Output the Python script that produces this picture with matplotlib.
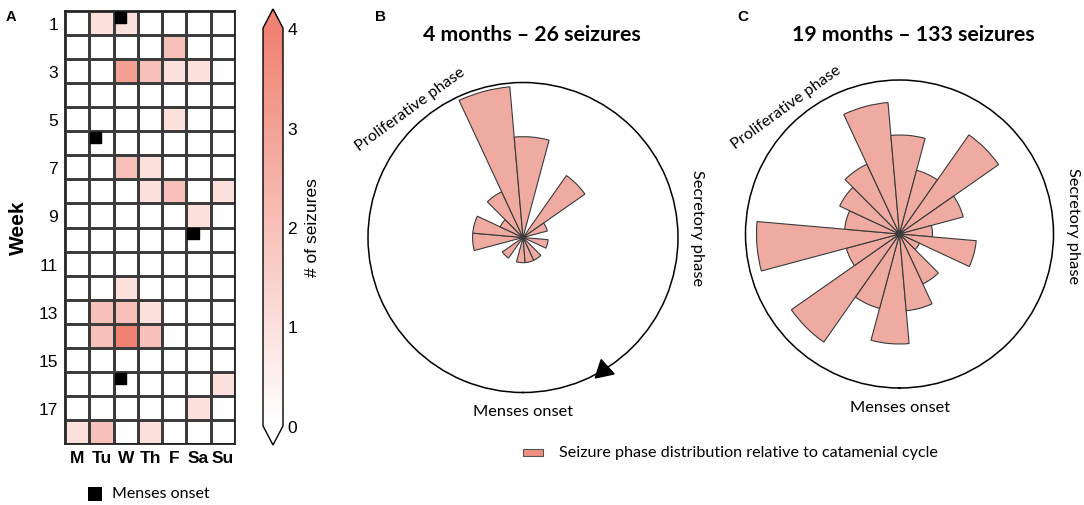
import numpy as np
import matplotlib
matplotlib.use('Agg')
import matplotlib.pyplot as plt
from matplotlib.colors import LinearSegmentedColormap
from matplotlib.patches import Rectangle

plt.rcParams['font.family'] = ['Liberation Sans', 'DejaVu Sans']

# panel A: seizures per day, weeks 1-18
days = ['M', 'Tu', 'W', 'Th', 'F', 'Sa', 'Su']
week_ticks = [1, 3, 5, 7, 9, 11, 13, 15, 17]
seizures = [
    [0, 1, 1, 0, 0, 0, 0],
    [0, 0, 0, 0, 2, 0, 0],
    [0, 0, 3, 2, 1, 1, 0],
    [0, 0, 0, 0, 0, 0, 0],
    [0, 0, 0, 0, 1, 0, 0],
    [0, 0, 0, 0, 0, 0, 0],
    [0, 0, 2, 1, 0, 0, 0],
    [0, 0, 0, 1, 2, 0, 1],
    [0, 0, 0, 0, 0, 1, 0],
    [0, 0, 0, 0, 0, 0, 0],
    [0, 0, 0, 0, 0, 0, 0],
    [0, 0, 1, 0, 0, 0, 0],
    [0, 2, 2, 1, 0, 0, 0],
    [0, 2, 4, 2, 0, 0, 0],
    [0, 0, 0, 0, 0, 0, 0],
    [0, 0, 0, 0, 0, 0, 1],
    [0, 0, 0, 0, 0, 1, 0],
    [1, 2, 0, 1, 0, 0, 0],
]
# menses onset (week, day index)
menses_week = [1, 6, 10, 16]
menses_day = [2, 1, 5, 2]

# panels B and C: counts per 20 deg bin, starting at menses onset going clockwise
bin_start = -5
counts_4m = [1, 0, 1, 0, 2, 2, 1, 2, 6, 4, 0, 3, 1, 0, 1, 0, 1, 1]
counts_19m = [10, 7, 12, 5, 13, 5, 6, 7, 12, 9, 6, 11, 6, 3, 7, 2, 5, 7]
rmax_4m = 6.15
rmax_19m = 14.0

W, H = 1084, 506
fig = plt.figure(figsize=(W / 100, H / 100), dpi=100)

def fx(px):
    return px / W

def fy(py):
    return 1 - py / H

# ---- A heatmap
cmap = LinearSegmentedColormap.from_list('sz', ['#ffffff', '#ef8272'])
axA = fig.add_axes([fx(65), fy(445), fx(170), (445 - 12) / H])
data = np.array(seizures)
mesh = axA.pcolormesh(data, cmap=cmap, vmin=0, vmax=4, edgecolors='#3c3c3c', linewidth=0.9)
axA.set_xlim(0, 7)
axA.set_ylim(18, 0)
axA.set_xticks(np.arange(7) + 0.5)
axA.set_xticklabels(days, fontweight='bold', fontsize=12.5)
axA.set_yticks(np.array(week_ticks) - 0.5)
axA.set_yticklabels([str(w) for w in week_ticks], fontsize=12.5)
axA.tick_params(length=0, pad=5)
axA.tick_params(axis='x', pad=4)
for s in axA.spines.values():
    s.set_linewidth(1.3)
    s.set_color('#222222')
for wk, d in zip(menses_week, menses_day):
    axA.add_patch(Rectangle((d + 0.04, wk - 1 + 0.03), 0.46, 0.46, color='black', zorder=5))
fig.text(fx(18), fy(228), 'Week', rotation=90, fontsize=15, fontweight='bold', ha='center', va='center')
fig.text(fx(11), fy(17), 'A', fontsize=10.5, fontweight='bold', ha='center', va='center')

# colorbar
cax = fig.add_axes([fx(263), fy(446), fx(20), (446 - 10) / H])
cb = fig.colorbar(mesh, cax=cax, extend='both', extendfrac=0.048)
cb.set_ticks([0, 1, 2, 3, 4])
cb.ax.tick_params(length=0, labelsize=12.5, pad=3)
cb.outline.set_linewidth(1.0)
cb.set_label('# of seizures', fontsize=12.5, labelpad=6)

fig.patches.append(Rectangle((fx(88), fy(502)), fx(14), 14 / H, transform=fig.transFigure,
                             facecolor='black', edgecolor='none'))
fig.text(fx(112), fy(494), 'Menses onset', fontsize=11.5, ha='left', va='center', family='Lato')

# ---- rose plots
theta = np.deg2rad(bin_start + 10 + 20 * np.arange(18))
width = np.deg2rad(20)

def rose(rect, counts, rmax, title, letter, lx, pro, sec, men):
    ax = fig.add_axes(rect, projection='polar')
    ax.set_theta_zero_location('S')
    ax.set_theta_direction(-1)
    ax.bar(theta, counts, width=width, bottom=0, color='#efaba1',
           edgecolor='#3a3a3a', linewidth=0.8)
    ax.set_ylim(0, rmax)
    ax.set_xticks([])
    ax.set_yticks([])
    ax.grid(False)
    ax.spines['polar'].set_linewidth(1.1)
    fig.text(fx(lx[0]), fy(lx[1]), letter, fontsize=11, fontweight='bold', ha='center', va='center')
    fig.text(fx(title[1]), fy(35), title[0], fontsize=15.3, fontweight='bold',
             ha='center', va='center', family='Lato')
    fig.text(fx(pro[0]), fy(pro[1]), 'Proliferative phase', rotation=36, fontsize=11.5,
             ha='center', va='center', family='Lato', rotation_mode='anchor')
    fig.text(fx(sec[0]), fy(sec[1]), 'Secretory phase', rotation=-90, fontsize=11.8,
             ha='center', va='center', family='Lato')
    fig.text(fx(men[0]), fy(men[1]), 'Menses onset', fontsize=11.8,
             ha='center', va='center', family='Lato')
    return ax

axB = rose([fx(368), fy(393.5), fx(310), 310 / H], counts_4m, rmax_4m,
           ('4 months \u2013 26 seizures', 532), 'B', (381, 17),
           (410, 110), (697, 228), (523, 412))
axB.plot([np.deg2rad(328.8)], [rmax_4m], marker=(3, 0, 12), markersize=16,
         color='black', clip_on=False, zorder=6)

axC = rose([fx(745.5), fy(389), fx(308), 308 / H], counts_19m, rmax_19m,
           ('19 months \u2013 133 seizures', 913), 'C', (743, 17),
           (786, 108), (1073, 226), (900, 408))

# legend for rose plots
fig.patches.append(Rectangle((fx(523), fy(457)), fx(20), 7 / H, transform=fig.transFigure,
                             facecolor='#ef8f82', edgecolor='#555555', linewidth=0.8))
fig.text(fx(559), fy(453), 'Seizure phase distribution relative to catamenial cycle',
         fontsize=11.6, ha='left', va='center', family='Lato')

fig.savefig('out.png', dpi=100)
